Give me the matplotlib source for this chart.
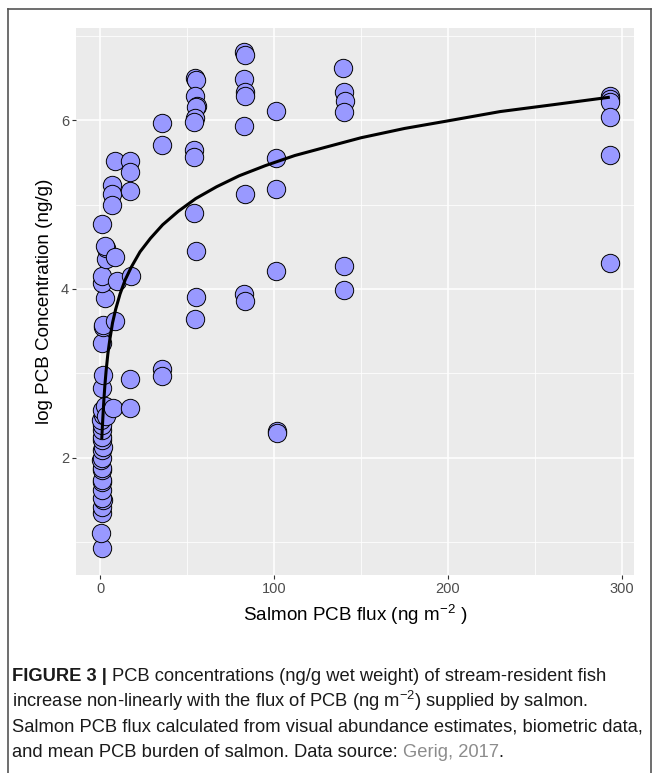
import matplotlib
matplotlib.use("Agg")
import matplotlib.pyplot as plt
from matplotlib.lines import Line2D
from matplotlib.ticker import MultipleLocator

plt.rcParams['font.family'] = ['Liberation Sans', 'DejaVu Sans']
plt.rcParams['mathtext.fontset'] = 'custom'
plt.rcParams['mathtext.rm'] = 'Liberation Sans'
plt.rcParams['mathtext.it'] = 'Liberation Sans:italic'
plt.rcParams['mathtext.bf'] = 'Liberation Sans:bold'

# ---- data ----
flux = [1.0, 0.8, 1.2, 1.0, 1.5, 1.0, 1.2, 0.9, 1.3, 1.0, 1.4, 0.8, 1.2, 1.0, 1.5, 0.9, 1.3,
        1.0, 1.2, 0.8, 1.6, 1.0, 1.2, 1.9, 1.0, 1.9, 1.5, 2.9, 1.0, 1.0, 3.3, 3.3, 3.0, 1.3,
        2.9, 3.4,
        8.6, 7.1, 6.7, 7.1, 8.6, 9.6, 8.6, 7.6,
        17.2, 17.2, 17.2, 17.8, 17.2, 17.2,
        35.4, 35.8, 35.4, 35.6,
        54.6, 55.0, 54.6, 55.6, 55.0, 54.6, 54.0, 54.0, 54.2, 54.2, 55.0, 55.2, 54.6,
        83.0, 83.2, 83.0, 83.2, 83.2, 82.9, 83.3, 82.8, 83.3,
        101.3, 101.1, 101.1, 101.1, 101.5, 101.5,
        139.8, 140.2, 140.8, 140.2, 140.2, 140.5,
        293.0, 293.2, 293.0, 293.0, 293.0, 293.0]
log_pcb = [0.93, 1.11, 1.35, 1.42, 1.50, 1.53, 1.62, 1.72, 1.74, 1.86, 1.88, 1.98, 2.00, 2.09, 2.13,
           2.21, 2.25, 2.33, 2.39, 2.45, 2.51, 2.57, 2.83, 2.98, 3.36, 3.55, 3.57, 3.89, 4.07, 4.15,
           4.36, 4.49, 4.51, 4.77,
           2.61, 2.50,
           5.51, 5.23, 5.12, 4.99, 4.38, 4.09, 3.62, 2.59,
           5.52, 5.38, 5.16, 4.15, 2.93, 2.59,
           5.97, 5.70, 3.05, 2.97,
           6.50, 6.47, 6.29, 6.17, 6.15, 6.02, 5.98, 5.65, 5.56, 4.90, 4.45, 3.91, 3.64,
           6.81, 6.77, 6.48, 6.33, 6.29, 5.93, 5.13, 3.94, 3.86,
           6.11, 5.55, 5.18, 4.21, 2.32, 2.29,
           6.61, 6.33, 6.23, 6.10, 4.27, 3.99,
           6.29, 6.25, 6.21, 6.03, 5.59, 4.31]

# fitted curve
curve_x = [1.0, 1.3, 1.7, 2.2, 2.8, 3.5, 4.5, 5.7, 7.2, 9, 11.5, 14.5, 18, 23, 29, 36, 45,
           55, 67, 80, 95, 112, 130, 150, 175, 200, 230, 260, 293]
curve_y = [2.22, 2.35, 2.50, 2.68, 2.86, 3.03, 3.23, 3.41, 3.60, 3.76, 3.94, 4.11, 4.26,
           4.44, 4.60, 4.76, 4.92, 5.07, 5.21, 5.34, 5.46, 5.58, 5.68, 5.79, 5.90, 5.99,
           6.10, 6.18, 6.27]

x_ticks = [0, 100, 200, 300]
y_ticks = [2, 4, 6]

W, H = 657, 773
fig = plt.figure(figsize=(W / 100, H / 100), dpi=100)

ax = fig.add_axes([76 / W, 1 - 575 / H, 558 / W, 547 / H])
ax.set_facecolor('#EBEBEB')
ax.set_xlim(-13.8, 306.9)
ax.set_ylim(0.615, 7.089)
ax.set_xticks(x_ticks)
ax.set_yticks(y_ticks)
ax.xaxis.set_minor_locator(MultipleLocator(50))
ax.yaxis.set_minor_locator(MultipleLocator(1))
ax.grid(which='major', color='white', linewidth=1.1)
ax.grid(which='minor', color='white', linewidth=0.55)
ax.set_axisbelow(True)
for s in ax.spines.values():
    s.set_visible(False)
ax.tick_params(which='major', length=3, width=0.8, color='#333333',
               labelsize=10.5, labelcolor='#4D4D4D', pad=2)
ax.tick_params(which='minor', length=0)

ax.scatter(flux, log_pcb, s=175, facecolor='#9999FF', edgecolor='black',
           linewidth=0.7, zorder=3)
ax.plot(curve_x, curve_y, color='black', linewidth=2.2, zorder=4,
        solid_capstyle='butt', solid_joinstyle='round')

ax.set_xlabel('Salmon PCB flux (ng m$^{-2}$ )', fontsize=13.6, labelpad=5)
ax.set_ylabel('log PCB Concentration (ng/g)', fontsize=13.6, labelpad=6)

# border around figure
for xs, ys in [([8, 8], [H + 5, 9]), ([8, 651], [9, 9]), ([651, 651], [9, H + 5])]:
    fig.add_artist(Line2D([v / W for v in xs], [1 - v / H for v in ys],
                          transform=fig.transFigure, color='#555555', linewidth=1.2))

# caption
fs = 13.2
x0 = 12 / W
line_y = [676, 702, 727, 752]
renderer = fig.canvas.get_renderer()

def put_parts(parts, ypix):
    x = x0
    for txt, weight, color in parts:
        t = fig.text(x, 1 - ypix / H, txt, fontsize=fs, fontweight=weight, color=color,
                     ha='left', va='baseline')
        bb = t.get_window_extent(renderer=renderer)
        x = (bb.x1) / W

put_parts([('FIGURE 3 | ', 'bold', '#1a1a1a'),
           ('PCB concentrations (ng/g wet weight) of stream-resident fish', 'normal', '#1a1a1a')],
          line_y[0] + 5)
put_parts([('increase non-linearly with the flux of PCB (ng m$^{\u2212 2}$) supplied by salmon.',
            'normal', '#1a1a1a')], line_y[1] + 5)
put_parts([('Salmon PCB flux calculated from visual abundance estimates, biometric data,',
            'normal', '#1a1a1a')], line_y[2] + 5)
put_parts([('and mean PCB burden of salmon. Data source: ', 'normal', '#1a1a1a'),
           ('Gerig, 2017', 'normal', '#8c8c8c'),
           ('.', 'normal', '#1a1a1a')], line_y[3] + 5)

fig.savefig('out.png', dpi=100, facecolor='white')
